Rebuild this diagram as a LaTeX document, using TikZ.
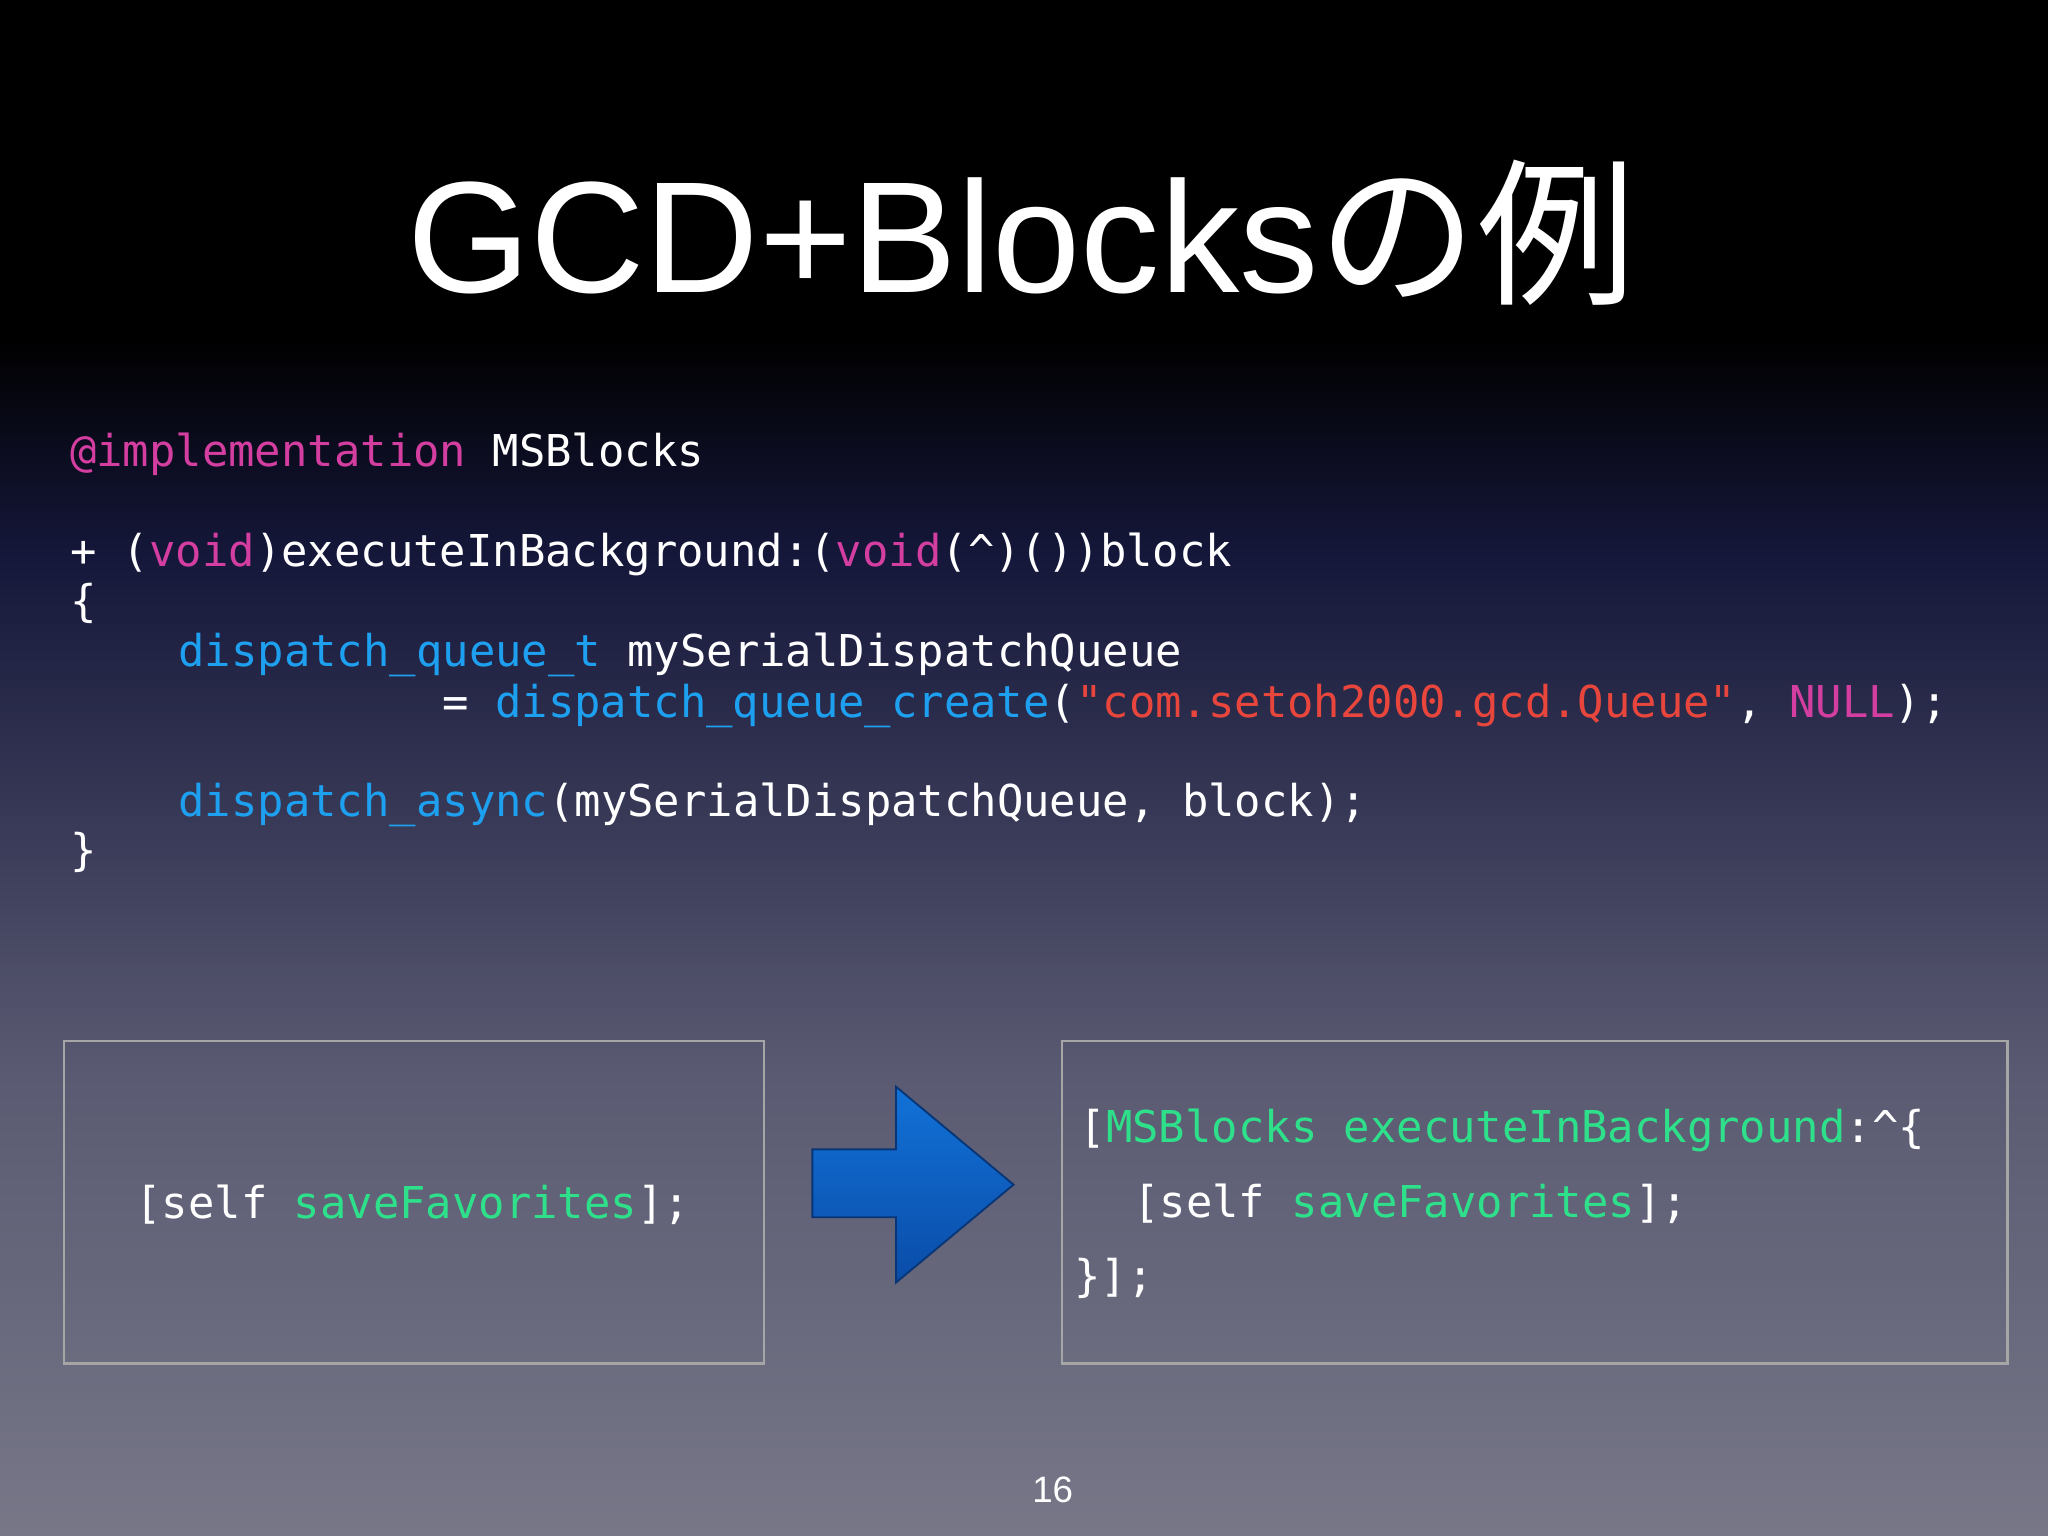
\documentclass[tikz,border=0pt]{standalone}
\usepackage{fontspec}
\setmainfont{Liberation Sans}
\newfontfamily\cjk{Noto Sans CJK JP}
\newfontfamily\codefont{DejaVu Sans Mono}
\definecolor{kw}{HTML}{D43EA0}
\definecolor{fn}{HTML}{1EA0F0}
\definecolor{st}{HTML}{E8463C}
\definecolor{gr}{HTML}{2EE08A}
\definecolor{bgA}{HTML}{000000}
\definecolor{bgB}{HTML}{15173A}
\definecolor{bgC}{HTML}{5A5A72}
\definecolor{bgD}{HTML}{777788}
\definecolor{arrA}{HTML}{1272D8}
\definecolor{arrB}{HTML}{0A4CA8}
\pgfdeclareverticalshading{bgshade}{100bp}{color(0bp)=(bgD);color(25bp)=(bgD);color(40bp)=(bgC);color(57bp)=(bgB);color(64bp)=(bgA);color(100bp)=(bgA)}
\begin{document}
\begin{tikzpicture}[x=0.01cm,y=-0.01cm,
  code/.style={anchor=base west,inner sep=0,text=white,font=\codefont\fontsize{9.55}{11}\selectfont},
  box/.style={draw=gray!70,line width=0.5pt}]
\useasboundingbox (0,0) rectangle (1568,1176);
\shade[shading=bgshade] (0,0) rectangle (1568,1176);
\node[anchor=center,text=white,inner sep=0] (title) at (782,178) {\fontsize{34.5}{40}\selectfont GCD+Blocks{\cjk の例}};
\node[code] (l1) at (53,357) {\textcolor{kw}{@implementation} MSBlocks};
\node[code] (l2) at (53,434) {+ (\textcolor{kw}{void})executeInBackground:(\textcolor{kw}{void}(\textasciicircum)())block};
\node[code] (l3) at (53,472) {\{};
\node[code] (l4) at (136,510) {\textcolor{fn}{dispatch\_queue\_t} mySerialDispatchQueue};
\node[code] (l5) at (338,549) {= \textcolor{fn}{dispatch\_queue\_create}(\textcolor{st}{"com.setoh2000.gcd.Queue"}, \textcolor{kw}{NULL});};
\node[code] (l6) at (136,625) {\textcolor{fn}{dispatch\_async}(mySerialDispatchQueue, block);};
\node[code] (l7) at (53,663) {\}};
\draw[box] (49,797) rectangle (585,1044);
\draw[box] (813,797) rectangle (1537,1044);
\node[code] (s1) at (103,933) {[self \textcolor{gr}{saveFavorites}];};
\node[code] (r1) at (826,875) {[\textcolor{gr}{MSBlocks executeInBackground}:\textasciicircum\{};
\node[code] (r2) at (867,932) {[self \textcolor{gr}{saveFavorites}];};
\node[code] (r3) at (822,989) {\}];};
\shade[top color=arrA,bottom color=arrB,draw=arrB!70!black,line width=0.4pt]
  (622,880) -- (686,880) -- (686,832) -- (776,907) -- (686,982) -- (686,932) -- (622,932) -- cycle;
\node[text=white,inner sep=0] (pg) at (806,1141) {\fontsize{8}{9}\selectfont 16};
\end{tikzpicture}
\end{document}
